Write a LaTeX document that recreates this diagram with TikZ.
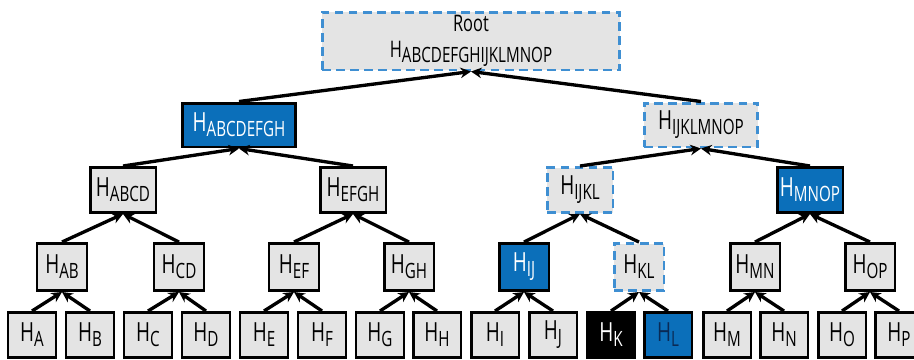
\documentclass[tikz,border=0pt]{standalone}
\usepackage{fontspec}
\setmainfont{Open Sans}[FakeStretch=0.72]
\usetikzlibrary{arrows.meta}
\definecolor{grayfill}{HTML}{E4E4E4}
\definecolor{bluefill}{HTML}{0B6FBA}
\definecolor{dashblue}{HTML}{3F8FD2}
\definecolor{navytext}{HTML}{0A2A55}
\newcommand{\hsh}[1]{H\raisebox{-2.8pt}{\fontsize{12}{14}\selectfont #1}}

\begin{document}
\begin{tikzpicture}[x=0.02cm, y=-0.02cm,
    hbox/.style={draw=black, line width=1.7pt, fill=grayfill, inner sep=0pt, minimum width=0.96cm, minimum height=0.9cm, font=\fontsize{15}{17}\selectfont},
    hsel/.style={hbox, fill=bluefill, text=white},
    hpath/.style={hbox, draw=dashblue, dash pattern=on 5pt off 3pt},
    hleaf/.style={hbox, fill=black, text=white},
    lvtwo/.style={minimum width=1.0cm, minimum height=0.94cm},
    lvthree/.style={minimum width=1.32cm},
    lvfour/.style={minimum width=2.28cm, minimum height=0.88cm},
    arr/.style={-{Stealth[length=6pt, width=6pt]}, line width=1.9pt}
]
\useasboundingbox (0,0) rectangle (914,359);

\node[hpath, minimum width=5.96cm, minimum height=1.16cm, align=center, font=\fontsize{13}{14}\selectfont] (root) at (471,41) {Root\\[1pt]\hsh{ABCDEFGHIJKLMNOP}};

\node[hsel, lvfour] (abcdefgh) at (239,125) {\hsh{ABCDEFGH}};
\node[hpath, lvfour] (ijklmnop) at (701,125) {\hsh{IJKLMNOP}};

\node[hbox, lvthree] (abcd) at (123,190) {\hsh{ABCD}};
\node[hbox, lvthree] (efgh) at (353,190) {\hsh{EFGH}};
\node[hpath, lvthree] (ijkl) at (580,190) {\hsh{IJKL}};
\node[hsel, lvthree] (mnop) at (810,190) {\hsh{MNOP}};

\node[hbox, lvtwo] (ab) at (62,267) {\hsh{AB}};
\node[hbox, lvtwo] (cd) at (179,267) {\hsh{CD}};
\node[hbox, lvtwo] (ef) at (294,267) {\hsh{EF}};
\node[hbox, lvtwo] (gh) at (409,267) {\hsh{GH}};
\node[hsel, lvtwo] (ij) at (524,267) {\hsh{IJ}};
\node[hpath, lvtwo] (kl) at (639,267) {\hsh{KL}};
\node[hbox, lvtwo] (mn) at (755,267) {\hsh{MN}};
\node[hbox, lvtwo] (op) at (870,267) {\hsh{OP}};

\node[hbox] (a) at (32,335) {\hsh{A}};
\node[hbox] (b) at (90,335) {\hsh{B}};
\node[hbox] (c) at (148,335) {\hsh{C}};
\node[hbox] (d) at (206,335) {\hsh{D}};
\node[hbox] (e) at (264,335) {\hsh{E}};
\node[hbox] (f) at (322,335) {\hsh{F}};
\node[hbox] (g) at (380,335) {\hsh{G}};
\node[hbox] (h) at (437,335) {\hsh{H}};
\node[hbox] (i) at (495,335) {\hsh{I}};
\node[hbox] (j) at (553,335) {\hsh{J}};
\node[hleaf] (k) at (611,335) {\hsh{K}};
\node[hsel, text=navytext] (l) at (668,335) {\hsh{L}};
\node[hbox] (m) at (727,335) {\hsh{M}};
\node[hbox] (n) at (784,335) {\hsh{N}};
\node[hbox] (o) at (842,335) {\hsh{O}};
\node[hbox] (p) at (899,335) {\hsh{P}};

\draw[arr] (abcdefgh.north) -- (root.south);
\draw[arr] (ijklmnop.north) -- (root.south);
\draw[arr] (abcd.north) -- (abcdefgh.south);
\draw[arr] (efgh.north) -- (abcdefgh.south);
\draw[arr] (ijkl.north) -- (ijklmnop.south);
\draw[arr] (mnop.north) -- (ijklmnop.south);
\draw[arr] (ab.north) -- (abcd.south);
\draw[arr] (cd.north) -- (abcd.south);
\draw[arr] (ef.north) -- (efgh.south);
\draw[arr] (gh.north) -- (efgh.south);
\draw[arr] (ij.north) -- (ijkl.south);
\draw[arr] (kl.north) -- (ijkl.south);
\draw[arr] (mn.north) -- (mnop.south);
\draw[arr] (op.north) -- (mnop.south);
\draw[arr] (a.north) -- (ab.south);
\draw[arr] (b.north) -- (ab.south);
\draw[arr] (c.north) -- (cd.south);
\draw[arr] (d.north) -- (cd.south);
\draw[arr] (e.north) -- (ef.south);
\draw[arr] (f.north) -- (ef.south);
\draw[arr] (g.north) -- (gh.south);
\draw[arr] (h.north) -- (gh.south);
\draw[arr] (i.north) -- (ij.south);
\draw[arr] (j.north) -- (ij.south);
\draw[arr] (k.north) -- (kl.south);
\draw[arr] (l.north) -- (kl.south);
\draw[arr] (m.north) -- (mn.south);
\draw[arr] (n.north) -- (mn.south);
\draw[arr] (o.north) -- (op.south);
\draw[arr] (p.north) -- (op.south);
\end{tikzpicture}
\end{document}
